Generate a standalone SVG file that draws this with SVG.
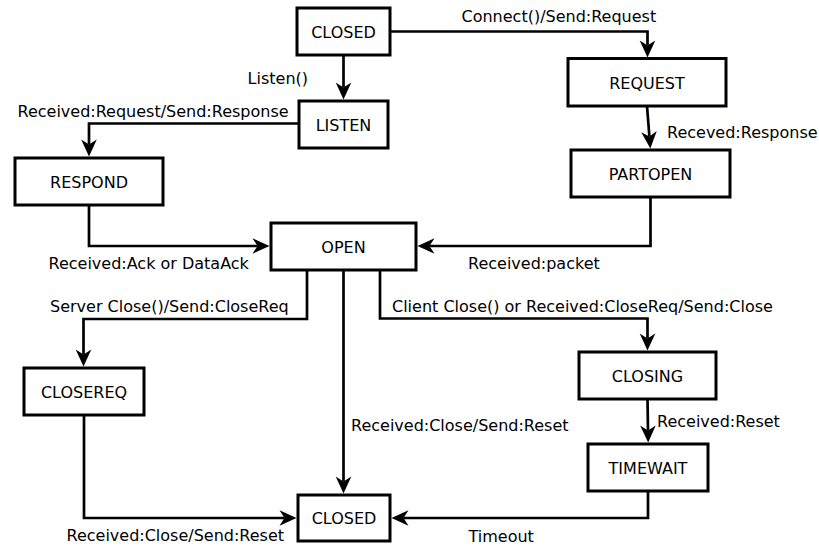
<svg xmlns="http://www.w3.org/2000/svg" width="819" height="546" viewBox="0 0 819 546">
  <style>
    text { font-family: "DejaVu Sans", "Liberation Sans", sans-serif; font-size: 16px; fill: #000; }
    .state rect { fill: #fff; stroke: #000; stroke-width: 3; }
    .state text { text-anchor: middle; }
    .edge { fill: none; stroke: #000; stroke-width: 2.7; marker-end: url(#arrow); }
  </style>
  <defs>
    <marker id="arrow" markerUnits="userSpaceOnUse" markerWidth="20" markerHeight="20" viewBox="0 -10 20 20" refX="5" refY="0" orient="auto" overflow="visible">
      <path d="M0,-7.8 L17,0 L0,7.8 L5,0 Z" fill="#000"/>
    </marker>
  </defs>

  <rect width="819" height="546" fill="#fff"/>

  <!-- transitions -->
  <g id="connectors">
    <path class="edge" d="M390,31.5 H647.5 V45.5"/>
    <path class="edge" d="M343.5,55 V87.5"/>
    <path class="edge" d="M299,123.5 H89 V144.5"/>
    <path class="edge" d="M89,205 V246 H257.5"/>
    <path class="edge" d="M647,106 L649.4,136.5"/>
    <path class="edge" d="M650.5,197 V246 H429.5"/>
    <path class="edge" d="M307,270 V319 H83.5 V354.5"/>
    <path class="edge" d="M343.5,270 V481.5"/>
    <path class="edge" d="M380,270 V318.5 H647.5 V338.5"/>
    <path class="edge" d="M647.5,399 L648,430.5"/>
    <path class="edge" d="M648,491 V518 H403.5"/>
    <path class="edge" d="M84,415 V518 H284.5"/>

    <text x="461.5" y="22">Connect()/Send:Request</text>
    <text x="308" y="84" text-anchor="end">Listen()</text>
    <text x="17.5" y="116.5">Received:Request/Send:Response</text>
    <text x="48.5" y="268.5">Received:Ack or DataAck</text>
    <text x="667" y="137.5">Receved:Response</text>
    <text x="468" y="269">Received:packet</text>
    <text x="50" y="312">Server Close()/Send:CloseReq</text>
    <text x="392" y="312">Client Close() or Received:CloseReq/Send:Close</text>
    <text x="351" y="431">Received:Close/Send:Reset</text>
    <text x="657" y="427">Received:Reset</text>
    <text x="468.5" y="542">Timeout</text>
    <text x="66.5" y="541">Received:Close/Send:Reset</text>
  </g>

  <!-- states -->
  <g id="closed-start" class="state"><rect x="297" y="8" width="93" height="47"/><text x="343.5" y="37.5">CLOSED</text></g>
  <g id="request" class="state"><rect x="568" y="58.5" width="158" height="47.5"/><text x="647" y="88.5">REQUEST</text></g>
  <g id="listen" class="state"><rect x="299" y="101" width="89" height="47"/><text x="343.5" y="130.5">LISTEN</text></g>
  <g id="respond" class="state"><rect x="15" y="158" width="148" height="47"/><text x="89" y="187.5">RESPOND</text></g>
  <g id="partopen" class="state"><rect x="571" y="150" width="159" height="47"/><text x="650.5" y="179.5">PARTOPEN</text></g>
  <g id="open" class="state"><rect x="271" y="223" width="145" height="47"/><text x="343.5" y="252.5">OPEN</text></g>
  <g id="closereq" class="state"><rect x="24" y="368" width="120" height="47"/><text x="84" y="397.5">CLOSEREQ</text></g>
  <g id="closing" class="state"><rect x="579" y="352" width="137" height="47"/><text x="647.5" y="381.5">CLOSING</text></g>
  <g id="timewait" class="state"><rect x="588" y="444" width="120" height="47"/><text x="648" y="473.5">TIMEWAIT</text></g>
  <g id="closed-end" class="state"><rect x="298" y="495" width="92" height="46"/><text x="344" y="524">CLOSED</text></g>
</svg>
